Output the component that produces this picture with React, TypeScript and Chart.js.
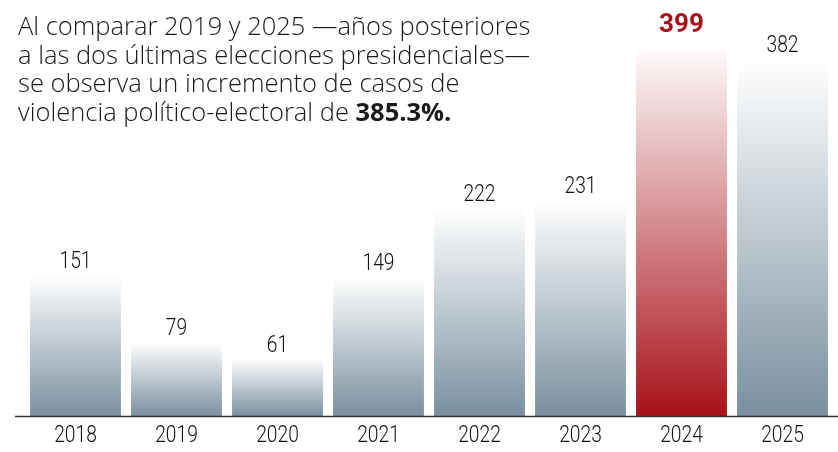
import React, { useEffect, useRef } from "react";
import { Chart, registerables } from "chart.js";

Chart.register(...registerables);

const years = ["2018", "2019", "2020", "2021", "2022", "2023", "2024", "2025"];
const cases = [151, 79, 61, 149, 222, 231, 399, 382];
const highlightYear = "2024";
const slate = "#7a909f";
const red = "#a8121a";

export default function App() {
  const ref = useRef<HTMLCanvasElement | null>(null);

  useEffect(() => {
    if (!ref.current) return;
    const gradientFor = (c: any) => {
      const chart = c.chart;
      const base = years[c.dataIndex] === highlightYear ? red : slate;
      if (!chart.chartArea || !chart.scales.y) return base;
      const y = chart.scales.y;
      const top = y.getPixelForValue(cases[c.dataIndex]);
      const bottom = y.getPixelForValue(0);
      const g = chart.ctx.createLinearGradient(0, top, 0, bottom);
      g.addColorStop(0, "rgba(255,255,255,1)");
      g.addColorStop(1, base);
      return g;
    };

    const condensedText = (ctx: any, text: string, x: number, y: number) => {
      ctx.save();
      ctx.translate(x, y);
      ctx.scale(0.8, 1);
      ctx.fillText(text, 0, 0);
      ctx.restore();
    };

    const labelsPlugin = {
      id: "valueLabels",
      afterDatasetsDraw(chart: any) {
        const ctx = chart.ctx;
        const meta = chart.getDatasetMeta(0);
        const xs = chart.scales.x;
        ctx.save();
        ctx.textAlign = "center";
        ctx.textBaseline = "alphabetic";
        meta.data.forEach((bar: any, i: number) => {
          const hi = years[i] === highlightYear;
          if (hi) {
            ctx.font = "bold 26px Roboto";
            ctx.fillStyle = red;
            ctx.fillText(String(cases[i]), bar.x, bar.y - 11);
          } else {
            ctx.font = "300 24px Roboto";
            ctx.fillStyle = "#111";
            condensedText(ctx, String(cases[i]), bar.x, bar.y - 7);
          }
        });
        const yb = chart.scales.y.getPixelForValue(0);
        ctx.font = "300 24px Roboto";
        ctx.fillStyle = "#111";
        xs.getLabels().forEach((lab: string, i: number) => {
          condensedText(ctx, lab, xs.getPixelForValue(i), yb + 26);
        });
        ctx.strokeStyle = "#333";
        ctx.lineWidth = 1.5;
        ctx.beginPath();
        ctx.moveTo(15, yb + 0.5);
        ctx.lineTo(chart.width, yb + 0.5);
        ctx.stroke();
        ctx.restore();
      },
    };

    const chart = new Chart(ref.current, {
      type: "bar",
      data: {
        labels: years,
        datasets: [
          {
            data: cases,
            backgroundColor: gradientFor,
            borderWidth: 0,
            barPercentage: 0.9,
            categoryPercentage: 1,
          },
        ],
      },
      options: {
        responsive: false,
        animation: false,
        layout: { padding: { left: 25, right: 5, top: 0, bottom: 36 } },
        plugins: { legend: { display: false }, tooltip: { enabled: false } },
        scales: {
          x: {
            grid: { display: false, drawTicks: false },
            border: { display: false },
            ticks: { display: false },
          },
          y: {
            display: false,
            min: 0,
            max: 445,
          },
        },
      },
      plugins: [labelsPlugin],
    });
    return () => chart.destroy();
  }, []);

  return (
    <div style={{ position: "absolute", left: 0, top: 0, width: 838, height: 452, background: "#fff" }}>
      <canvas ref={ref} width={838} height={452} style={{ display: "block" }} />
      <div
        style={{
          position: "absolute",
          left: 18,
          top: 11,
          fontFamily: "'Open Sans', sans-serif",
          fontWeight: 300,
          fontSize: 25.5,
          lineHeight: "28.7px",
          color: "#1a1a1a",
          whiteSpace: "nowrap",
        }}
      >
        Al comparar 2019 y 2025 —años posteriores
        <br />a las dos últimas elecciones presidenciales—
        <br />se observa un incremento de casos de
        <br />violencia político-electoral de <b style={{ fontWeight: 700 }}>385.3%.</b>
      </div>
    </div>
  );
}
